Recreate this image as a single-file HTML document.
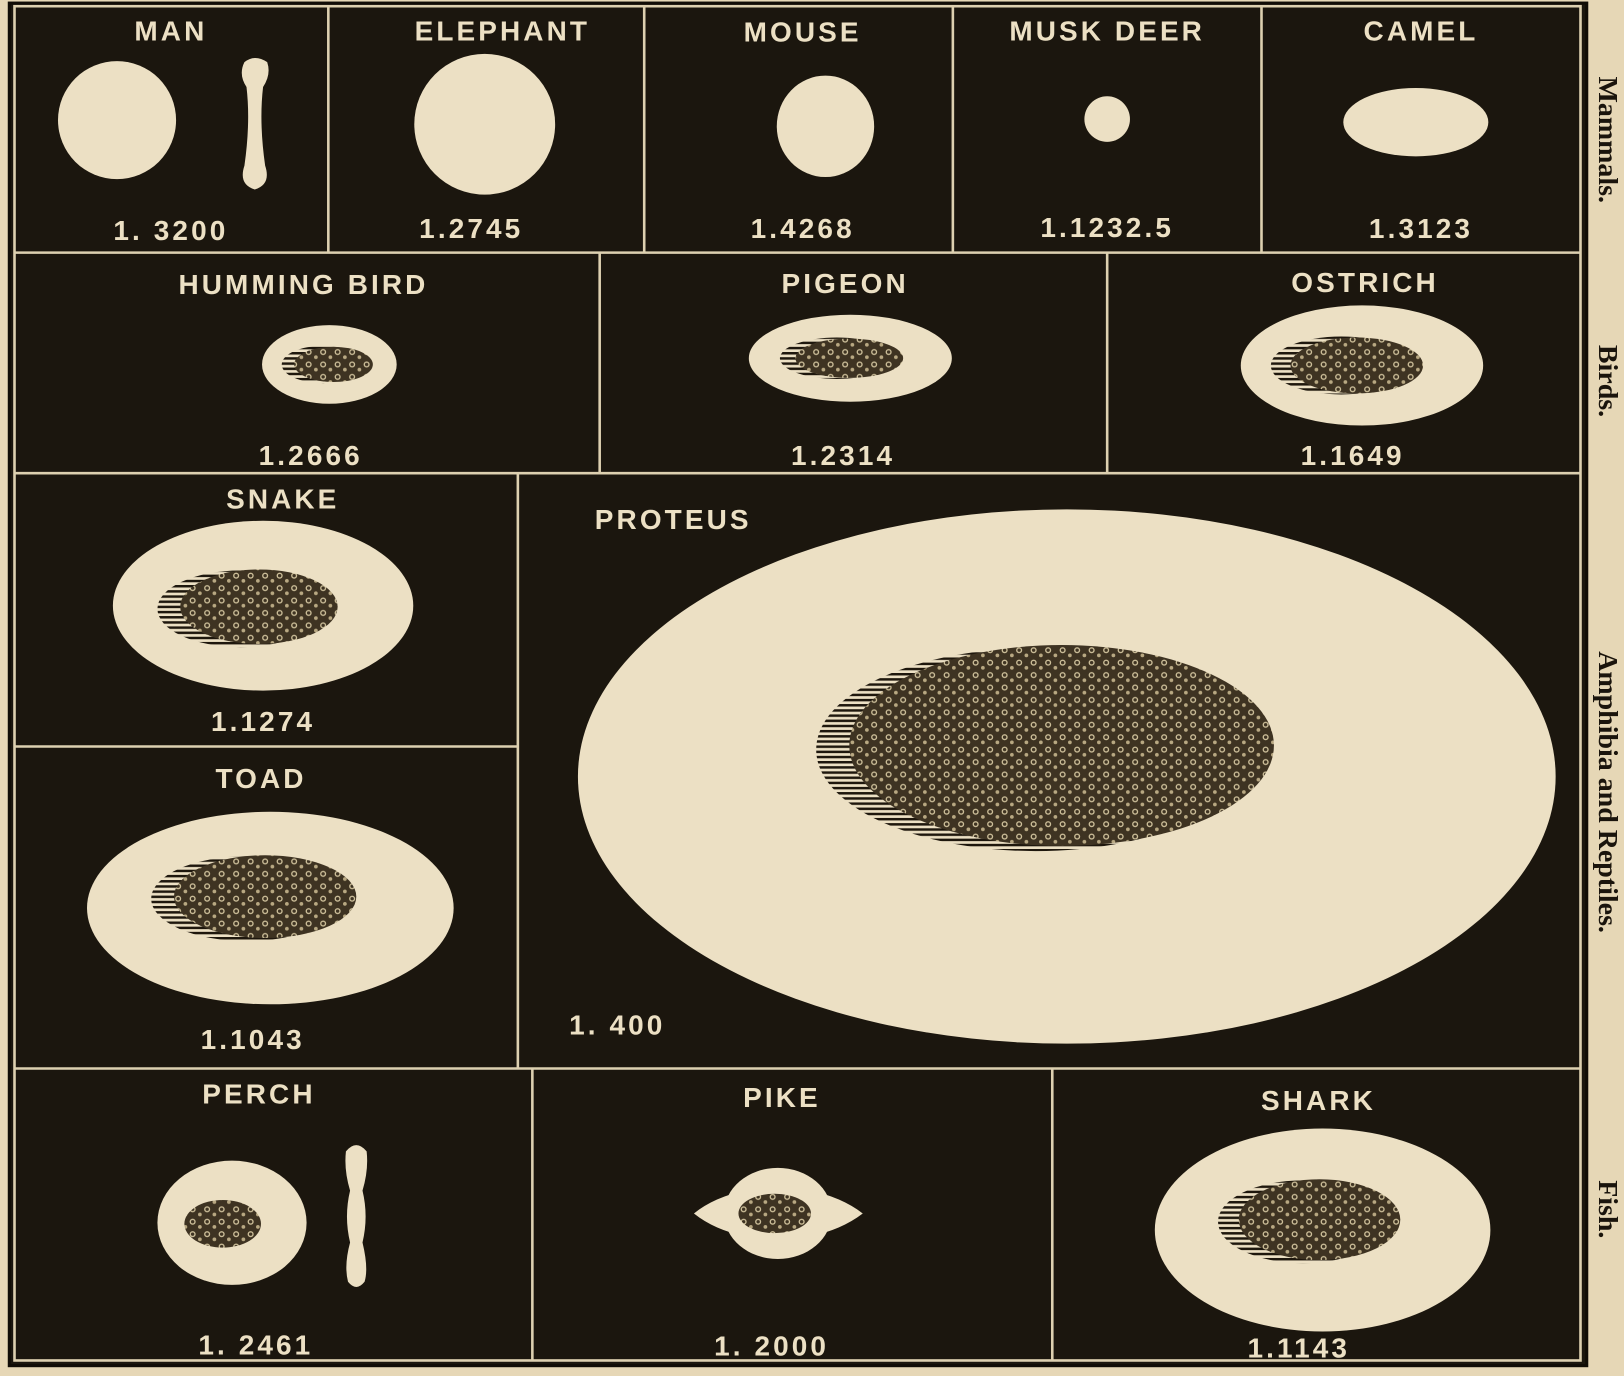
<!DOCTYPE html>
<html><head><meta charset="utf-8"><style>
html,body{margin:0;padding:0;background:#e6d7b6;}
svg{display:block}
.l{font-family:"Liberation Sans",sans-serif;font-weight:bold;fill:#ece0c4;font-size:27px;letter-spacing:3px;text-anchor:middle}
.s{font-family:"Liberation Serif",serif;font-weight:bold;fill:#1a140c;font-size:27px;text-anchor:middle}
</style></head><body>
<svg width="1624" height="1376" viewBox="0 0 1568 1329" preserveAspectRatio="none" xmlns="http://www.w3.org/2000/svg">
<defs>
<pattern id="h" width="6" height="5" patternUnits="userSpaceOnUse"><rect width="6" height="5" fill="#ece0c4"/><rect width="6" height="2.4" fill="#1e170d"/></pattern>
<pattern id="n" width="14" height="12" patternUnits="userSpaceOnUse"><rect width="14" height="12" fill="#3e3322"/><circle cx="4" cy="4" r="2.3" fill="none" stroke="#cbbd98" stroke-width="1.3"/><circle cx="11" cy="9" r="1.8" fill="#b8a882"/></pattern>
</defs>
<rect width="1568" height="1329" fill="#e6d7b6"/>
<rect x="9" y="3" width="1523" height="1316" fill="#1b160e" stroke="#100c06" stroke-width="3"/>
<g stroke="#ddd0b0" stroke-width="2.5" fill="none">
<rect x="14" y="6" width="1512" height="1308"/>
<line x1="14" y1="244" x2="1526" y2="244"/>
<line x1="14" y1="457" x2="1526" y2="457"/>
<line x1="14" y1="1032" x2="1526" y2="1032"/>
<line x1="14" y1="721" x2="500" y2="721"/>
<line x1="317" y1="6" x2="317" y2="244"/><line x1="622" y1="6" x2="622" y2="244"/><line x1="920" y1="6" x2="920" y2="244"/><line x1="1218" y1="6" x2="1218" y2="244"/>
<line x1="579" y1="244" x2="579" y2="457"/><line x1="1069" y1="244" x2="1069" y2="457"/>
<line x1="500" y1="457" x2="500" y2="1032"/>
<line x1="514" y1="1032" x2="514" y2="1314"/><line x1="1016" y1="1032" x2="1016" y2="1314"/>
</g>
<g fill="#ece0c4">
<circle cx="113" cy="116" r="57"/>
<path d="M236 60 Q246 52 258 60 Q262 72 254 84 Q250 118 256 160 Q262 178 246 183 Q230 178 236 160 Q242 118 238 84 Q230 72 236 60Z"/>
<circle cx="468" cy="120" r="68"/>
<ellipse cx="797" cy="122" rx="47" ry="49"/>
<circle cx="1069" cy="115" r="22"/>
<ellipse cx="1367" cy="118" rx="70" ry="33"/>
<ellipse cx="318" cy="352" rx="65" ry="38"/>
<ellipse cx="821" cy="346" rx="98" ry="42"/>
<ellipse cx="1315" cy="353" rx="117" ry="58"/>
<ellipse cx="254" cy="585" rx="145" ry="82"/>
<ellipse cx="261" cy="877" rx="177" ry="93"/>
<ellipse cx="1030" cy="750" rx="472" ry="258"/>
<ellipse cx="224" cy="1181" rx="72" ry="60"/>
<path d="M334 1112 Q344 1100 354 1112 Q356 1130 350 1150 Q356 1175 350 1200 Q356 1225 352 1238 Q344 1248 336 1238 Q332 1222 338 1200 Q332 1175 338 1150 Q332 1130 334 1112Z"/>
<ellipse cx="751" cy="1172" rx="52" ry="44"/>
<path d="M670 1172 Q690 1156 720 1150 L782 1150 Q812 1156 833 1172 Q812 1188 782 1194 L720 1194 Q690 1188 670 1172Z"/>
<ellipse cx="1277" cy="1188" rx="162" ry="98"/>
</g>
<g>
<ellipse cx="312" cy="352" rx="40" ry="18" fill="url(#h)"/><ellipse cx="322" cy="352" rx="38" ry="17" fill="url(#n)"/>
<ellipse cx="808" cy="346" rx="55" ry="20" fill="url(#h)"/><ellipse cx="820" cy="346" rx="52" ry="19" fill="url(#n)"/>
<ellipse cx="1295" cy="353" rx="68" ry="28" fill="url(#h)"/><ellipse cx="1310" cy="353" rx="64" ry="27" fill="url(#n)"/>
<ellipse cx="232" cy="588" rx="80" ry="37" fill="url(#h)"/><ellipse cx="250" cy="586" rx="76" ry="36" fill="url(#n)"/>
<ellipse cx="238" cy="868" rx="92" ry="41" fill="url(#h)"/><ellipse cx="256" cy="866" rx="88" ry="40" fill="url(#n)"/>
<ellipse cx="1000" cy="724" rx="212" ry="98" fill="url(#h)"/><ellipse cx="1025" cy="720" rx="205" ry="97" fill="url(#n)"/>
<ellipse cx="215" cy="1182" rx="37" ry="23" fill="url(#n)"/>
<ellipse cx="748" cy="1172" rx="35" ry="19" fill="url(#n)"/>
<ellipse cx="1258" cy="1180" rx="82" ry="40" fill="url(#h)"/><ellipse cx="1274" cy="1178" rx="78" ry="39" fill="url(#n)"/>
</g>
<g class="l">
<text class="l" x="165" y="39">MAN</text>
<text class="l" x="485" y="39">ELEPHANT</text>
<text class="l" x="775" y="40">MOUSE</text>
<text class="l" x="1069" y="39">MUSK DEER</text>
<text class="l" x="1372" y="39">CAMEL</text>
<text class="l" x="165" y="232">1. 3200</text>
<text class="l" x="455" y="230">1.2745</text>
<text class="l" x="775" y="230">1.4268</text>
<text class="l" x="1069" y="229">1.1232.5</text>
<text class="l" x="1372" y="230">1.3123</text>
<text class="l" x="293" y="284">HUMMING BIRD</text>
<text class="l" x="300" y="449">1.2666</text>
<text class="l" x="816" y="283">PIGEON</text>
<text class="l" x="814" y="449">1.2314</text>
<text class="l" x="1318" y="282">OSTRICH</text>
<text class="l" x="1306" y="449">1.1649</text>
<text class="l" x="273" y="491">SNAKE</text>
<text class="l" x="254" y="706">1.1274</text>
<text class="l" x="252" y="761">TOAD</text>
<text class="l" x="244" y="1013">1.1043</text>
<text class="l" x="650" y="511">PROTEUS</text>
<text class="l" x="596" y="999">1. 400</text>
<text class="l" x="250" y="1066">PERCH</text>
<text class="l" x="247" y="1308">1. 2461</text>
<text class="l" x="755" y="1069">PIKE</text>
<text class="l" x="745" y="1309">1. 2000</text>
<text class="l" x="1273" y="1072">SHARK</text>
<text class="l" x="1254" y="1311">1.1143</text>
</g>
<text class="s" transform="translate(1544,135) rotate(90)">Mammals.</text>
<text class="s" transform="translate(1544,368) rotate(90)">Birds.</text>
<text class="s" transform="translate(1544,765) rotate(90)">Amphibia and Reptiles.</text>
<text class="s" transform="translate(1544,1168) rotate(90)">Fish.</text>
</svg>
</body></html>
